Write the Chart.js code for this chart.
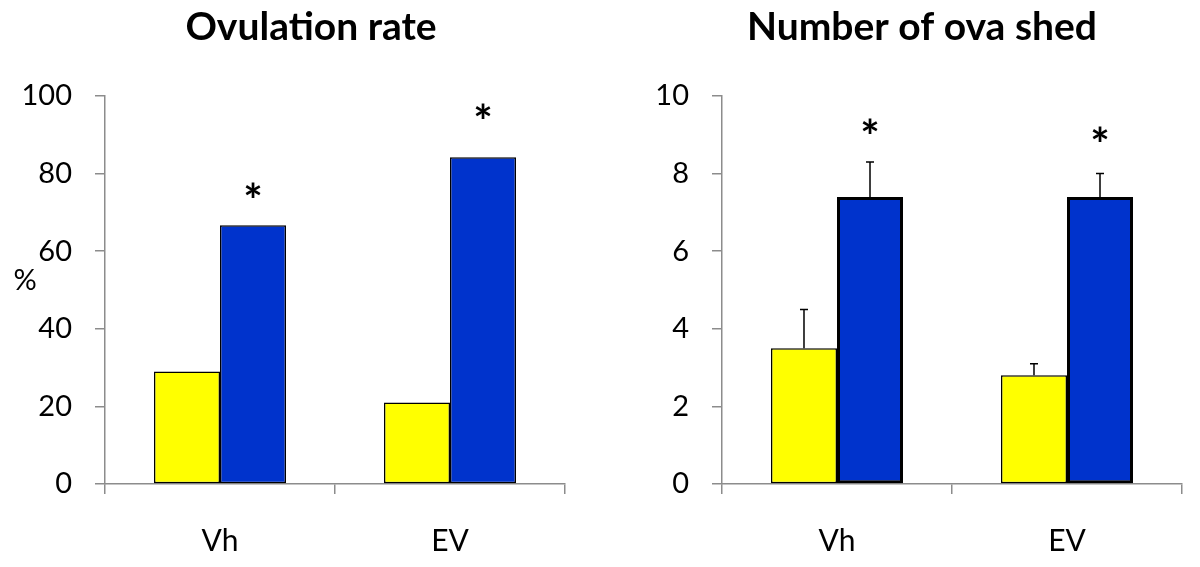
<!DOCTYPE html>
<html>
<head>
<meta charset="utf-8">
<script src="https://cdn.jsdelivr.net/npm/chart.js@4.4.1/dist/chart.umd.min.js"></script>
<style>
  body { margin: 0; background: #fff; }
  .box { position: absolute; top: 0; width: 600px; height: 567px; }
</style>
</head>
<body>
<div class="box" style="left:0"><canvas id="chartOv"></canvas></div>
<div class="box" style="left:600px"><canvas id="chartOva"></canvas></div>
<script>
// categories
var groups = ['Vh', 'EV'];

// ovulation rate (%)
var ovYellow = [29, 21];
var ovBlue = [66.7, 84.2];
var ovTicks = [0, 20, 40, 60, 80, 100];
var ovStars = [75.5, 95.8];   // level of the * over the blue bars

// number of ova shed (mean + SEM)
var ovaYellow = [3.5, 2.8];
var ovaYellowErr = [1.0, 0.3];
var ovaBlue = [7.4, 7.4];
var ovaBlueErr = [0.9, 0.6];
var ovaTicks = [0, 2, 4, 6, 8, 10];
var ovaStars = [9.2, 9.0];

var FONT = 'Lato';
var AXIS = '#8c8c8c';

// title, upper error bars and the asterisks
var extras = {
  id: 'extras',
  afterDraw: function (chart, args, opts) {
    var ctx = chart.ctx;
    ctx.save();
    ctx.fillStyle = '#000';
    ctx.textAlign = 'center';
    ctx.textBaseline = 'middle';
    ctx.font = 'bold 39px ' + FONT;
    ctx.fillText(opts.title, opts.titleX, 27);
    ctx.restore();
  },
  afterDatasetsDraw: function (chart, args, opts) {
    var ctx = chart.ctx;
    var ys = chart.scales.y;
    ctx.save();
    chart.data.datasets.forEach(function (ds, i) {
      if (!ds.err) return;
      var meta = chart.getDatasetMeta(i);
      meta.data.forEach(function (bar, j) {
        var top = ys.getPixelForValue(ds.data[j] + ds.err[j]);
        ctx.strokeStyle = '#000';
        ctx.lineWidth = 1.5;
        ctx.beginPath();
        ctx.moveTo(bar.x, bar.y);
        ctx.lineTo(bar.x, top);
        ctx.moveTo(bar.x - 4, top);
        ctx.lineTo(bar.x + 4, top);
        ctx.stroke();
      });
    });
    // stars over blue bars
    var blue = chart.getDatasetMeta(1);
    ctx.fillStyle = '#000';
    ctx.font = 'bold 46px ' + FONT;
    ctx.textAlign = 'center';
    ctx.textBaseline = 'middle';
    opts.stars.forEach(function (lv, j) {
      ctx.fillText('*', blue.data[j].x, ys.getPixelForValue(lv) + 11);
    });
    if (opts.unit) {
      ctx.font = '29px ' + FONT;
      ctx.fillText(opts.unit, 25, 281);
    }
    ctx.restore();
  }
};

function makeChart(id, title, titleX, yellow, blue, yErr, bErr, ticks, stars, unit, padR, yW, blueBorder) {
  return new Chart(document.getElementById(id), {
    type: 'bar',
    data: {
      labels: groups,
      datasets: [{
        data: yellow,
        err: yErr,
        backgroundColor: '#ffff00',
        borderColor: '#000',
        borderWidth: 1.5,
        borderSkipped: false
      }, {
        data: blue,
        err: bErr,
        backgroundColor: '#0033cc',
        borderColor: '#000',
        borderWidth: blueBorder,
        borderSkipped: false
      }]
    },
    plugins: [extras],
    options: {
      responsive: false,
      animation: false,
      devicePixelRatio: 1,
      layout: { padding: { left: 0, right: padR, top: 96, bottom: 0 } },
      plugins: {
        legend: { display: false },
        tooltip: { enabled: false },
        title: { display: false },
        extras: { title: title, titleX: titleX, stars: stars, unit: unit }
      },
      datasets: { bar: { categoryPercentage: 0.574, barPercentage: 1 } },
      scales: {
        x: {
          grid: { offset: true, drawOnChartArea: false, drawTicks: true, tickLength: 10, color: AXIS, lineWidth: 1.5 },
          border: { display: true, color: AXIS, width: 1.5 },
          ticks: { color: '#000', font: { family: FONT, size: 30 }, padding: 29 },
          afterFit: function (s) { s.height = 83; }
        },
        y: {
          min: ticks[0],
          max: ticks[ticks.length - 1],
          afterBuildTicks: function (s) { s.ticks = ticks.map(function (v) { return { value: v }; }); },
          grid: { drawOnChartArea: false, drawTicks: true, tickLength: 10, color: AXIS, lineWidth: 1.5 },
          border: { display: true, color: AXIS, width: 1.5 },
          ticks: { color: '#000', font: { family: FONT, size: 29 }, padding: 23 },
          afterFit: function (s) { s.width = yW; }
        }
      }
    }
  });
}

['chartOv', 'chartOva'].forEach(function (id) {
  document.getElementById(id).width = 600;
  document.getElementById(id).height = 567;
});

makeChart('chartOv', 'Ovulation rate', 311, ovYellow, ovBlue, null, null, ovTicks, ovStars, '%', 35, 105, 1.5);
makeChart('chartOva', 'Number of ova shed', 322, ovaYellow, ovaBlue, ovaYellowErr, ovaBlueErr, ovaTicks, ovaStars, null, 18, 122, 3);
</script>
</body>
</html>
